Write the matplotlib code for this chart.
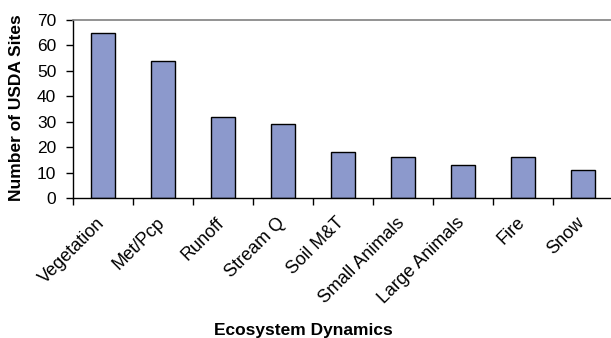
import matplotlib.pyplot as plt
from matplotlib.transforms import ScaledTranslation

plt.rcParams['font.family'] = ['Liberation Sans', 'DejaVu Sans']

# USDA sites per ecosystem dynamics category
categories = ['Vegetation', 'Met/Pcp', 'Runoff', 'Stream Q', 'Soil M&T',
              'Small Animals', 'Large Animals', 'Fire', 'Snow']
sites = [65, 54, 32, 29, 18, 16, 13, 16, 11]
yticks = [0, 10, 20, 30, 40, 50, 60, 70]

fig = plt.figure(figsize=(6.11, 3.38), dpi=100)
ax = fig.add_axes([73 / 611, 140 / 338, 540 / 611, 178 / 338])

x = range(len(categories))
ax.bar(x, sites, width=0.4, color='#8c99cc', edgecolor='black', linewidth=1)

ax.set_xlim(-0.5, len(categories) - 0.5)
ax.set_ylim(0, 70)
ax.set_yticks(yticks)
ax.set_yticklabels([str(v) for v in yticks], fontsize=12.5)
ax.tick_params(axis='y', direction='out', length=5, width=1, pad=7)

# ticks sit between the categories, labels under each bar
ax.set_xticks([i - 0.5 for i in range(len(categories) + 1)])
ax.set_xticklabels([])
ax.set_xticks(list(x), minor=True)
ax.set_xticklabels(categories, minor=True, rotation=45, ha='right',
                   va='center', rotation_mode='anchor', fontsize=13)
ax.tick_params(axis='x', which='major', direction='out', length=5, width=1)
ax.tick_params(axis='x', which='minor', length=0, pad=16)
shift = ScaledTranslation(-1 / 100, 0, fig.dpi_scale_trans)
for lbl in ax.get_xticklabels(minor=True):
    lbl.set_transform(lbl.get_transform() + shift)

for side in ['left', 'bottom']:
    ax.spines[side].set_color('black')
    ax.spines[side].set_linewidth(1)
ax.spines['top'].set_color('#808080')
ax.spines['top'].set_linewidth(1.2)
ax.spines['right'].set_visible(False)

fig.text(17 / 611, 1 - 108 / 338, 'Number of USDA Sites', rotation=90,
         ha='center', va='center', fontsize=12.5, fontweight='bold')
fig.text(303 / 611, 1 - 330 / 338, 'Ecosystem Dynamics',
         ha='center', va='center', fontsize=12.5, fontweight='bold')

fig.savefig('out.png', dpi=100)
